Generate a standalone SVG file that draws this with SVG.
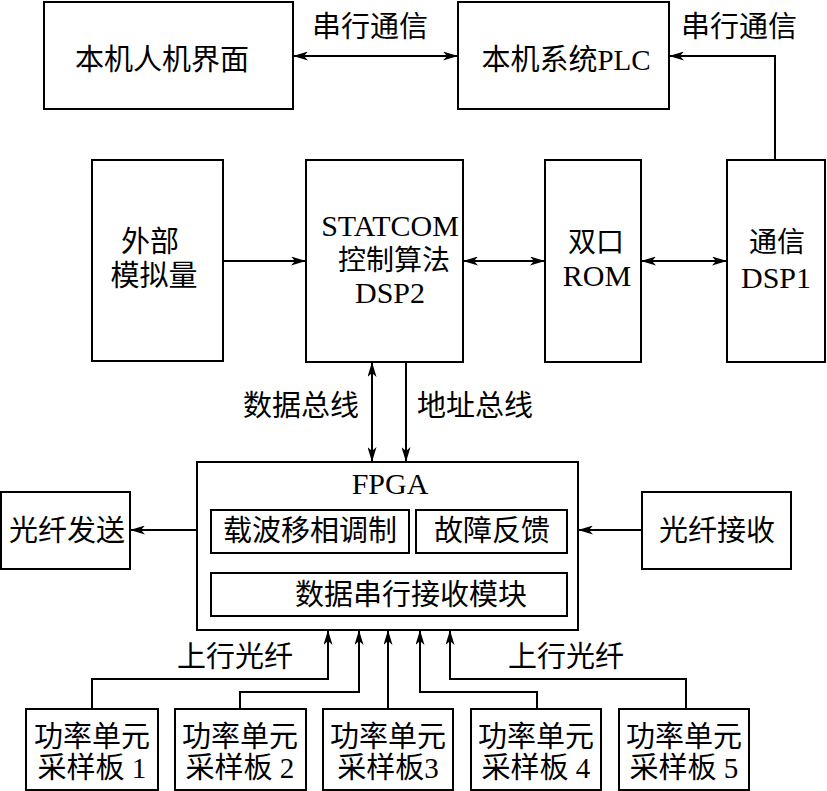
<svg xmlns="http://www.w3.org/2000/svg" width="827" height="791" viewBox="0 0 827 791">
<defs>
<marker id="ah" markerUnits="userSpaceOnUse" markerWidth="15" markerHeight="9" refX="15" refY="4.5" orient="auto-start-reverse">
<path d="M0,0 L15,4.5 L0,9 L4,4.5 z" fill="#000"/>
</marker>
<style>
rect{fill:#fff;stroke:#000;stroke-width:2}
text{font-family:"Liberation Serif","Noto Sans CJK SC",serif;font-size:29px;text-anchor:middle;fill:#000}
.l{font-size:30px}
.s{font-size:28px}
.c line,.c polyline{stroke:#000;stroke-width:2;fill:none}
.a{marker-end:url(#ah)}
.d{marker-start:url(#ah);marker-end:url(#ah)}
</style>
</defs>
<rect x="0" y="0" width="827" height="791" style="fill:#fff;stroke:none"/>
<g id="hmi"><rect x="44" y="2" width="249" height="107"/><text x="162" y="70">本机人机界面</text></g>
<g id="plc"><rect x="458" y="2" width="211" height="107"/><text x="566" y="70">本机系统PLC</text></g>
<g id="analog"><rect x="92" y="160" width="131" height="201"/><text x="150" y="252">外部</text><text x="154" y="286">模拟量</text></g>
<g id="dsp2"><rect x="306" y="160" width="157" height="202"/><text class="l" x="390" y="236">STATCOM</text><text class="s" x="394" y="270">控制算法</text><text class="l" x="390" y="303">DSP2</text></g>
<g id="rom"><rect x="545" y="160" width="96" height="202"/><text class="s" x="596" y="252">双口</text><text class="l" x="597" y="286">ROM</text></g>
<g id="dsp1"><rect x="727" y="160" width="98" height="202"/><text class="s" x="777" y="252">通信</text><text class="l" x="776" y="288">DSP1</text></g>
<g id="fpga"><rect x="197" y="462" width="381" height="168"/><text class="l" x="390" y="494">FPGA</text>
<rect x="211" y="510" width="198" height="43"/><text x="310" y="541">载波移相调制</text>
<rect x="416" y="510" width="151" height="43"/><text x="492" y="541">故障反馈</text>
<rect x="211" y="573" width="356" height="43"/><text x="411" y="605">数据串行接收模块</text></g>
<g id="tx"><rect x="1" y="492" width="129" height="77"/><text x="67" y="541">光纤发送</text></g>
<g id="rx"><rect x="642" y="492" width="149" height="77"/><text x="717" y="541">光纤接收</text></g>
<g id="b1"><rect x="26" y="709" width="132" height="81"/><text x="92" y="747">功率单元</text><text x="92" y="778">采样板 1</text></g>
<g id="b2"><rect x="175" y="709" width="131" height="81"/><text x="240" y="747">功率单元</text><text x="240" y="778">采样板 2</text></g>
<g id="b3"><rect x="323" y="709" width="130" height="81"/><text x="388" y="747">功率单元</text><text x="388" y="778">采样板3</text></g>
<g id="b4"><rect x="471" y="709" width="130" height="81"/><text x="536" y="747">功率单元</text><text x="536" y="778">采样板 4</text></g>
<g id="b5"><rect x="619" y="709" width="130" height="81"/><text x="684" y="747">功率单元</text><text x="684" y="778">采样板 5</text></g>
<g id="connectors" class="c">
<line class="d" x1="293" y1="56" x2="458" y2="56"/>
<polyline class="a" points="775,160 775,56 669,56"/>
<line class="a" x1="223" y1="261" x2="306" y2="261"/>
<line class="d" x1="463" y1="261" x2="545" y2="261"/>
<line class="d" x1="641" y1="261" x2="727" y2="261"/>
<line class="d" x1="372" y1="362" x2="372" y2="462"/>
<line class="a" x1="406" y1="362" x2="406" y2="462"/>
<line class="a" x1="197" y1="530" x2="130" y2="530"/>
<line class="a" x1="642" y1="530" x2="578" y2="530"/>
<polyline class="a" points="92,709 92,679 328,679 328,630"/>
<polyline class="a" points="240,709 240,692 359,692 359,630"/>
<line class="a" x1="388" y1="709" x2="388" y2="630"/>
<polyline class="a" points="537,709 537,692 420,692 420,630"/>
<polyline class="a" points="686,709 686,679 450,679 450,630"/>
</g>
<g id="labels">
<text x="370" y="37">串行通信</text>
<text x="739" y="37">串行通信</text>
<text x="301" y="416">数据总线</text>
<text x="475" y="416">地址总线</text>
<text x="235" y="667">上行光纤</text>
<text x="566" y="667">上行光纤</text>
</g>
</svg>
